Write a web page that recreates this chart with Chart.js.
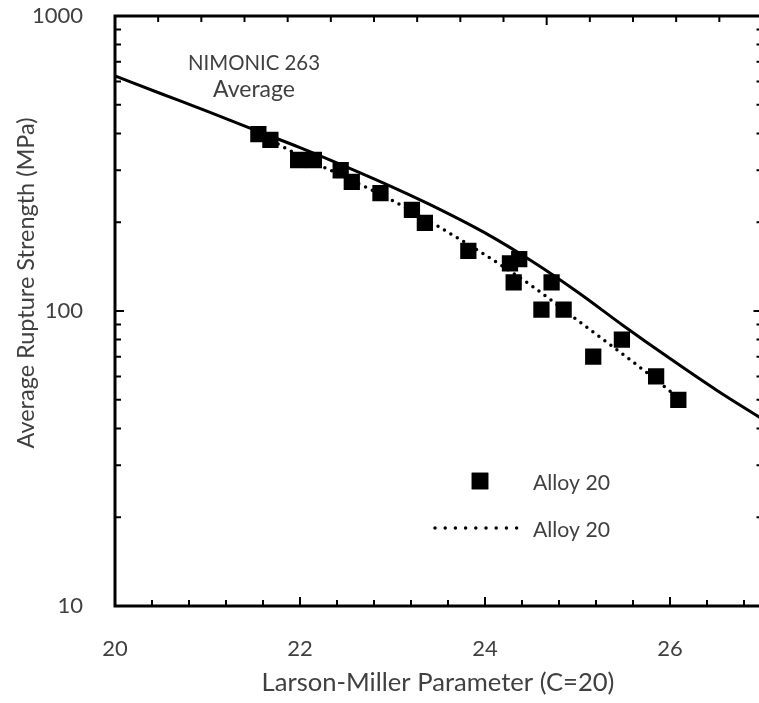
<!DOCTYPE html>
<html>
<head>
<meta charset="utf-8">
<script src="https://cdn.jsdelivr.net/npm/chart.js@4.4.0/dist/chart.umd.min.js"></script>
<style>
  html, body { margin: 0; padding: 0; background: #fff; overflow: hidden; }
  #chart { display: block; }
</style>
</head>
<body>
<canvas id="chart" width="770" height="703"></canvas>
<script>
// ── Daten ────────────────────────────────────────────────────

// Alloy 20 Messpunkte (LMP, MPa)
const alloyX = [21.55, 21.68, 21.98, 22.15, 22.44, 22.56, 22.87, 23.21, 23.35, 23.82,
                24.27, 24.37, 24.31, 24.72, 24.61, 24.85, 25.17, 25.48, 25.85, 26.09];
const alloyY = [398, 380, 325, 325, 300, 274, 251, 220, 199, 160,
                145, 150, 125, 125, 101, 101, 70, 80, 60, 50];

// Alloy 20 Trendlinie (gepunktet)
const trendX = [21.55, 22, 22.5, 23, 23.5, 24, 24.5, 25, 25.5, 26, 26.09];
const trendY = [401, 336, 283, 237, 193, 155, 122, 93, 71, 53.5, 50.5];

// NIMONIC 263 Mittelwert (durchgezogen)
const avgX = [20, 20.5, 21, 21.5, 22, 22.5, 23, 23.5, 24, 24.5, 25, 25.5, 26, 26.5, 27];
const avgY = [626, 545, 475, 412, 358, 308, 263, 222, 184, 148, 116, 89, 69, 54, 43];

// Achsen-Beschriftungen
const xTickLabels = [20, 22, 24, 26];
const yTickLabels = [10, 100, 1000];
const yMinorTicks = [20, 30, 40, 50, 60, 70, 80, 90, 200, 300, 400, 500, 600, 700, 800, 900];

const TXT = '#404040';
const FONT = 'Lato';

// Text auf Zielbreite bringen (Ersatz für Calibri)
function fitText(ctx, text, width, x, y) {
  ctx.font = '20px ' + FONT;
  const size = 20 * width / ctx.measureText(text).width;
  ctx.font = size.toFixed(2) + 'px ' + FONT;
  ctx.fillText(text, x, y);
}

// ── Rahmen, Ticks nach innen, Texte ─────────────────────────

const framePlugin = {
  id: 'frame',
  afterDraw(chart) {
    const { ctx, chartArea: a, scales: { x, x2, y } } = chart;
    ctx.save();
    ctx.strokeStyle = '#000';
    ctx.lineCap = 'butt';

    // Ticks
    ctx.lineWidth = 2;
    ctx.beginPath();
    // unten: alle 0.4
    for (let i = 0; i <= 17; i++) {
      const v = +(20 + i * 0.4).toFixed(1);
      const px = x.getPixelForValue(v);
      const len = xTickLabels.includes(v) ? 9 : 6;
      ctx.moveTo(px, a.bottom);
      ctx.lineTo(px, a.bottom - len);
    }
    // oben: Sekundärachse 0..15
    for (let v = 0; v <= 15; v++) {
      const px = x2.getPixelForValue(v);
      const len = v % 10 === 0 ? 9 : 6;
      ctx.moveTo(px, a.top);
      ctx.lineTo(px, a.top + len);
    }
    // links + rechts
    yTickLabels.concat(yMinorTicks).forEach(v => {
      const py = y.getPixelForValue(v);
      const len = yTickLabels.includes(v) ? 9 : 6;
      ctx.moveTo(a.left, py);
      ctx.lineTo(a.left + len, py);
      ctx.moveTo(a.right, py);
      ctx.lineTo(a.right - len, py);
    });
    ctx.stroke();

    // Rahmen
    ctx.lineWidth = 3;
    ctx.strokeRect(a.left, a.top, a.right - a.left, a.bottom - a.top);

    // Texte
    ctx.fillStyle = TXT;
    ctx.textAlign = 'center';
    ctx.textBaseline = 'alphabetic';
    fitText(ctx, 'NIMONIC 263', 132, 254, 70);
    fitText(ctx, 'Average', 82, 254, 97);

    fitText(ctx, 'Larson-Miller Parameter (C=20)', 353, 438, 691);
    ctx.save();
    ctx.translate(34, 283);
    ctx.rotate(-Math.PI / 2);
    fitText(ctx, 'Average Rupture Strength (MPa)', 331, 0, 0);
    ctx.restore();

    // Legende
    ctx.textAlign = 'left';
    fitText(ctx, 'Alloy 20', 77, 533, 490);
    fitText(ctx, 'Alloy 20', 77, 533, 537);
    ctx.fillStyle = '#000';
    Chart.helpers.drawPoint(ctx, { pointStyle: 'rect', radius: 11.7, borderWidth: 0 }, 480, 481);
    ctx.fill();
    ctx.strokeStyle = '#000';
    ctx.lineWidth = 3.5;
    ctx.lineCap = 'round';
    ctx.setLineDash([0, 10.2]);
    ctx.beginPath();
    ctx.moveTo(435, 528);
    ctx.lineTo(518, 528);
    ctx.stroke();
    ctx.restore();
  }
};

// ── Chart ────────────────────────────────────────────────────

const toPts = (xs, ys) => xs.map((v, i) => ({ x: v, y: ys[i] }));

new Chart(document.getElementById('chart'), {
  type: 'scatter',
  data: {
    datasets: [
      {
        label: 'NIMONIC 263 Average',
        data: toPts(avgX, avgY),
        showLine: true,
        borderColor: '#000',
        borderWidth: 3,
        pointRadius: 0,
        cubicInterpolationMode: 'monotone',
        order: 3
      },
      {
        label: 'Alloy 20 trend',
        data: toPts(trendX, trendY),
        showLine: true,
        borderColor: '#000',
        borderWidth: 3.5,
        borderCapStyle: 'round',
        borderDash: [0, 7.5],
        pointRadius: 0,
        cubicInterpolationMode: 'monotone',
        order: 2
      },
      {
        label: 'Alloy 20',
        data: toPts(alloyX, alloyY),
        pointStyle: 'rect',
        pointRadius: 11.5,
        pointBorderWidth: 0,
        backgroundColor: '#000',
        borderColor: '#000',
        order: 1
      }
    ]
  },
  options: {
    responsive: false,
    animation: false,
    devicePixelRatio: 1,
    layout: { autoPadding: false, padding: { left: 0, top: 16, right: 7.5, bottom: 0 } },
    plugins: {
      legend: { display: false },
      tooltip: { enabled: false }
    },
    scales: {
      x: {
        type: 'linear',
        position: 'bottom',
        min: 20,
        max: 27,
        grid: { display: false },
        border: { display: false },
        afterBuildTicks: s => { s.ticks = xTickLabels.map(v => ({ value: v })); },
        afterFit: s => { s.height = 97; s.paddingLeft = 0; s.paddingRight = 0; },
        ticks: {
          padding: 22,
          color: TXT,
          font: { family: FONT, size: 22 },
          maxRotation: 0,
          autoSkip: false
        }
      },
      x2: {
        type: 'linear',
        position: 'top',
        display: false,
        min: 0,
        max: 15
      },
      y: {
        type: 'logarithmic',
        min: 10,
        max: 1000,
        grid: { display: false },
        border: { display: false },
        afterBuildTicks: s => { s.ticks = yTickLabels.map(v => ({ value: v })); },
        afterFit: s => { s.width = 115; s.paddingTop = 0; s.paddingBottom = 0; },
        ticks: {
          padding: 24,
          color: TXT,
          font: { family: FONT, size: 22 },
          autoSkip: false,
          callback: v => String(v)
        }
      }
    }
  },
  plugins: [framePlugin]
});
</script>
</body>
</html>
